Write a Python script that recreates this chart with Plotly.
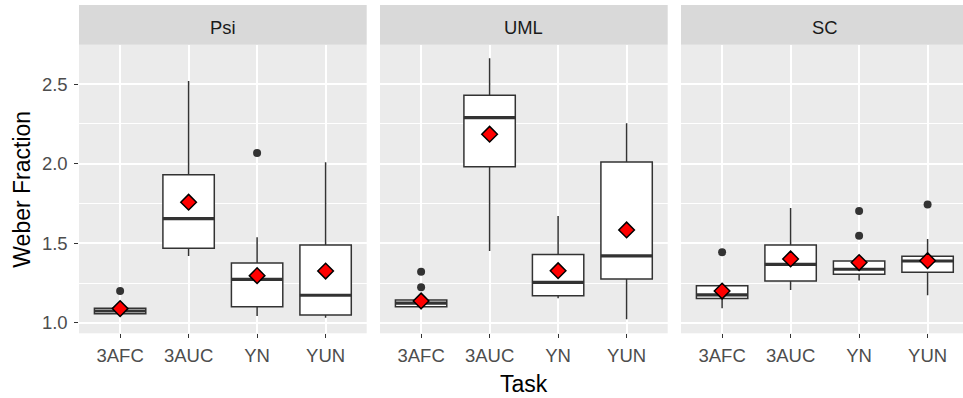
import plotly.graph_objects as go

# Facets and task categories
methods = ["Psi", "UML", "SC"]
tasks = ["3AFC", "3AUC", "YN", "YUN"]

# Box statistics per method (rows) and task (columns)
lower_whisker = [
    [1.050, 1.421, 1.044, 1.033],
    [1.086, 1.452, 1.155, 1.023],
    [1.092, 1.207, 1.266, 1.174],
]
q1 = [
    [1.057, 1.469, 1.102, 1.050],
    [1.102, 1.981, 1.171, 1.276],
    [1.153, 1.264, 1.306, 1.318],
]
median = [
    [1.075, 1.655, 1.274, 1.174],
    [1.124, 2.289, 1.255, 1.421],
    [1.176, 1.368, 1.337, 1.389],
]
q3 = [
    [1.092, 1.931, 1.377, 1.490],
    [1.144, 2.429, 1.429, 2.011],
    [1.234, 1.490, 1.389, 1.419],
]
upper_whisker = [
    [1.100, 2.519, 1.538, 2.009],
    [1.150, 2.662, 1.672, 2.254],
    [1.240, 1.722, 1.390, 1.527],
]
means = [
    [1.090, 1.758, 1.297, 1.326],
    [1.138, 2.185, 1.328, 1.584],
    [1.200, 1.402, 1.379, 1.391],
]

# Outlying observations
outlier_method = ["Psi", "Psi", "UML", "UML", "SC", "SC", "SC", "SC"]
outlier_task = ["3AFC", "YN", "3AFC", "3AFC", "3AFC", "YN", "YN", "YUN"]
outlier_value = [1.200, 2.067, 1.322, 1.224, 1.444, 1.703, 1.548, 1.743]

y_ticks = [1.0, 1.5, 2.0, 2.5]
y_tick_text = ["1.0", "1.5", "2.0", "2.5"]
y_minor = [1.25, 1.75, 2.25]

W, H = 963, 398
FONT = "Liberation Sans, Arial, sans-serif"
DARK = "#333333"
BOX_W = 0.75

# panel geometry in pixels
panel_left = [79.0, 380.0, 681.0]
panel_width = 287.7
unit_px = panel_width / 4.2
panel_top, panel_bottom = 44.7, 333.3
strip_top = 5.0
y_range = [0.935, 2.747]


def px_x(p):
    return p / W


def px_y(p):
    return 1 - p / H


fig = go.Figure()
layout = {}
shapes = []
annotations = []

for i, m in enumerate(methods):
    suffix = "" if i == 0 else str(i + 1)
    xa, ya = "x" + suffix, "y" + suffix
    pos = list(range(len(tasks)))

    fig.add_trace(go.Box(
        x=pos, q1=q1[i], median=median[i], q3=q3[i],
        lowerfence=lower_whisker[i], upperfence=upper_whisker[i],
        width=BOX_W, fillcolor="white",
        line=dict(color=DARK, width=1.5), whiskerwidth=0,
        boxpoints=False, xaxis=xa, yaxis=ya,
        showlegend=False, hoverinfo="skip",
    ))

    # thicker median bars
    mx, my = [], []
    for p, med in zip(pos, median[i]):
        mx += [p - BOX_W / 2, p + BOX_W / 2, None]
        my += [med, med, None]
    fig.add_trace(go.Scatter(
        x=mx, y=my, mode="lines", line=dict(color=DARK, width=3.2),
        xaxis=xa, yaxis=ya, showlegend=False, hoverinfo="skip",
    ))

    ox = [tasks.index(t) for mm, t in zip(outlier_method, outlier_task) if mm == m]
    oy = [v for mm, v in zip(outlier_method, outlier_value) if mm == m]
    fig.add_trace(go.Scatter(
        x=ox, y=oy, mode="markers",
        marker=dict(color=DARK, size=8),
        xaxis=xa, yaxis=ya, showlegend=False, hoverinfo="skip",
    ))

    fig.add_trace(go.Scatter(
        x=pos, y=means[i], mode="markers",
        marker=dict(symbol="diamond", color="red", size=12,
                    line=dict(color="black", width=1.5)),
        xaxis=xa, yaxis=ya, showlegend=False, hoverinfo="skip",
    ))

    left = panel_left[i]
    right = min(left + panel_width, W)
    x_hi = -0.6 + (right - left) / unit_px

    layout["xaxis" + suffix] = dict(
        domain=[px_x(left), px_x(right)], range=[-0.6, x_hi],
        anchor=ya, tickmode="array", tickvals=pos, ticktext=tasks,
        ticks="outside", ticklen=3.7, tickwidth=1.1, tickcolor=DARK,
        ticklabelstandoff=2,
        tickfont=dict(family=FONT, size=18.5, color="#4D4D4D"),
        showgrid=True, gridcolor="white", gridwidth=1.6,
        zeroline=False, showline=False, fixedrange=True,
    )
    layout["yaxis" + suffix] = dict(
        domain=[px_y(panel_bottom), px_y(panel_top)], range=y_range,
        anchor=xa, tickmode="array", tickvals=y_ticks, ticktext=y_tick_text,
        ticks="outside" if i == 0 else "", ticklen=3.7, tickwidth=1.1,
        tickcolor=DARK, showticklabels=(i == 0), ticklabelstandoff=3,
        tickfont=dict(family=FONT, size=18.5, color="#4D4D4D"),
        showgrid=True, gridcolor="white", gridwidth=1.6,
        minor=dict(tickmode="array", tickvals=y_minor, showgrid=True,
                   gridcolor="white", gridwidth=0.8, ticks=""),
        zeroline=False, showline=False, fixedrange=True,
    )

    # facet strip
    shapes.append(dict(
        type="rect", xref="paper", yref="paper",
        x0=px_x(left), x1=px_x(right), y0=px_y(panel_top), y1=px_y(strip_top),
        fillcolor="#D9D9D9", line=dict(width=0), layer="below",
    ))
    annotations.append(dict(
        text=m, xref="paper", yref="paper",
        x=px_x(left + panel_width / 2), y=px_y(27),
        xanchor="center", yanchor="middle", showarrow=False,
        font=dict(family=FONT, size=18.4, color="#1A1A1A"),
    ))

annotations.append(dict(
    text="Task", xref="paper", yref="paper",
    x=px_x((panel_left[0] + panel_left[2] + panel_width) / 2), y=px_y(384),
    xanchor="center", yanchor="middle", showarrow=False,
    font=dict(family=FONT, size=23, color="black"),
))
annotations.append(dict(
    text="Weber Fraction", xref="paper", yref="paper",
    x=px_x(21.7), y=px_y((panel_top + panel_bottom) / 2),
    xanchor="center", yanchor="middle", showarrow=False, textangle=-90,
    font=dict(family=FONT, size=23, color="black"),
))

fig.update_layout(
    width=W, height=H, template="none",
    margin=dict(l=0, r=0, t=0, b=0),
    paper_bgcolor="white", plot_bgcolor="#EBEBEB",
    shapes=shapes, annotations=annotations,
    showlegend=False, **layout,
)

fig.write_html("out.html")
